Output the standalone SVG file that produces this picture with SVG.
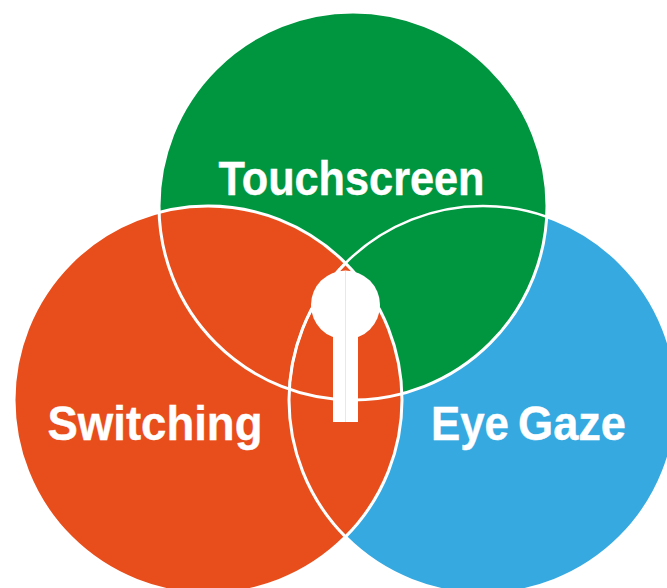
<svg xmlns="http://www.w3.org/2000/svg" width="667" height="588" viewBox="0 0 667 588">
<style>
.l{font-family:"Liberation Sans",Arial,sans-serif;font-weight:700;font-size:48px;fill:#fff;stroke:#fff;stroke-width:.4}
.c{stroke:#fff;stroke-width:3}
.e{fill:none;stroke:#fff;stroke-width:3}
</style>
<defs>
<clipPath id="cg"><circle cx="353" cy="206" r="194"/></clipPath>
<clipPath id="co"><circle cx="208" cy="400" r="194"/></clipPath>
</defs>
<rect width="667" height="588" fill="#fff"/>
<g id="eye-gaze"><circle class="c" cx="483" cy="400" r="194" fill="#36a9e1"/><text class="l" x="431" y="440" textLength="78" lengthAdjust="spacingAndGlyphs">Eye</text><text class="l" x="518" y="440" textLength="108" lengthAdjust="spacingAndGlyphs">Gaze</text></g>
<g id="touchscreen"><circle class="c" cx="353" cy="206" r="194" fill="#009640"/><text class="l" x="351.500" y="195" text-anchor="middle" textLength="266" lengthAdjust="spacingAndGlyphs">Touchscreen</text></g>
<g id="switching"><circle class="c" cx="208" cy="400" r="194" fill="#e84e1b"/><text class="l" x="155" y="440" text-anchor="middle" textLength="215" lengthAdjust="spacingAndGlyphs">Switching</text></g>
<g id="connectors">
<circle class="e" cx="353" cy="206" r="194" clip-path="url(#co)"/>
<circle class="e" cx="483" cy="400" r="194" clip-path="url(#cg)" style="stroke-width:2.500"/>
<circle class="e" cx="483" cy="400" r="194" clip-path="url(#co)"/>
</g>
<g id="keyhole"><circle cx="345.500" cy="305" r="34.500" fill="#fff"/><rect x="333" y="320" width="25" height="102" fill="#fff"/><line x1="345.500" y1="271" x2="345.500" y2="422" stroke="#f8d5c8" stroke-width="0.7"/></g>
</svg>
